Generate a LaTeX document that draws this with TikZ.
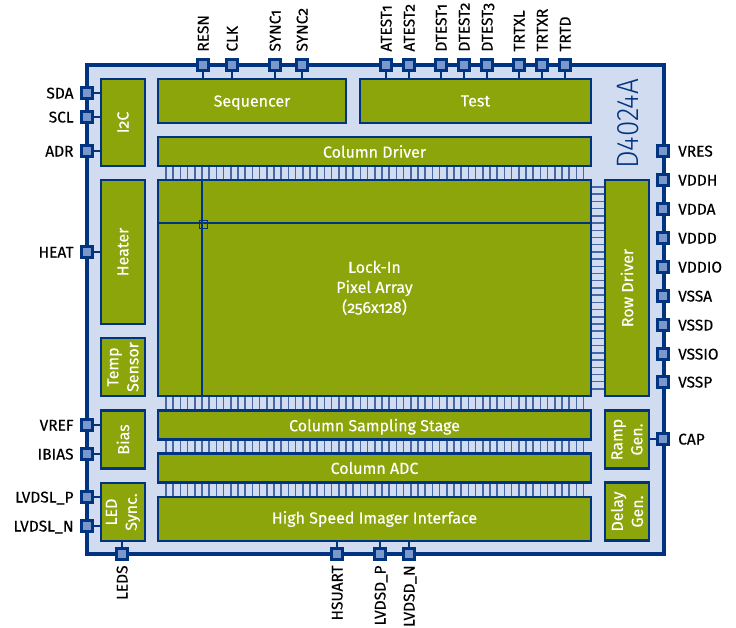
\documentclass[tikz,border=0pt]{standalone}
\usepackage{fontspec}
\setmainfont[Numbers=OldStyle]{Fira Sans}
\newfontfamily\markfont[Numbers=Lining,FakeStretch=0.9]{Fira Sans Light}
\usetikzlibrary{calc,positioning}
\definecolor{chipblue}{RGB}{0,51,128}
\definecolor{chipfill}{RGB}{210,220,240}
\definecolor{padfill}{RGB}{122,152,203}
\definecolor{blockgreen}{RGB}{140,165,10}
\definecolor{tickblue}{RGB}{70,105,165}
\tikzset{
  chipbox/.style={rectangle, draw=chipblue, fill=chipfill, line width=4pt, outer sep=0pt, inner sep=0pt},
  block/.style={rectangle, draw=chipblue, fill=blockgreen, line width=2.4pt, outer sep=0pt, inner sep=0pt,
    text=white, align=center, font=\fontsize{16}{20}\selectfont\addfontfeature{FakeBold=0.25}},
  padbox/.style={rectangle, draw=chipblue, fill=padfill, line width=2.6pt, outer sep=0pt, inner sep=0pt,
    minimum width=10.5pt, minimum height=10.5pt},
  padlabel/.style={font=\fontsize{15.5}{18}\selectfont\addfontfeature{FakeBold=0.3}, text=black, inner sep=0pt,
    text height=13pt, text depth=2pt},
  stub/.style={draw=chipblue, line width=1.1pt},
  tick/.style={draw=tickblue, line width=1.5pt},
  probe/.style={draw=chipblue, line width=1.1pt}
}
\begin{document}
\begin{tikzpicture}[x=1pt, y=-1pt]
\useasboundingbox (0,0) rectangle (736,627);
\node[chipbox, minimum width=577pt, minimum height=489pt] (chip) at (375,309.5) {};
% column and row strips
\foreach \ya/\yb in {166/180,396/411,439/454,483/497} {
  \foreach \i in {0,...,58} {
    \draw[tick] ({166+7.2*\i},\ya) -- ({166+7.2*\i},\yb);
  }
}
\foreach \i in {0,...,28} {
  \draw[tick] (591,{187+7.21*\i}) -- (605,{187+7.21*\i});
}
% blocks
\node[block, text depth=0pt, minimum width=188pt, minimum height=44pt] (seq) at (252,101) {Sequencer};
\node[block, minimum width=231pt, minimum height=44pt] (test) at (475.5,101) {Test};
\node[block, minimum width=433pt, minimum height=29pt] (cdrv) at (374.5,151.5) {Column Driver};
\node[block, minimum width=433pt, minimum height=216pt] (array) at (374.5,288) {Lock-In\\Pixel Array\\(256x128)};
\node[block, text depth=0pt, minimum width=433pt, minimum height=29pt] (csamp) at (374.5,425) {Column Sampling Stage};
\node[block, minimum width=433pt, minimum height=29pt] (cadc) at (374.5,468) {Column ADC};
\node[block, minimum width=433pt, minimum height=44pt] (hsii) at (374.5,519) {High Speed Imager Interface};
\node[block, rotate=90, minimum width=87pt, minimum height=44pt] (i2c) at (123,122.5) {I2C};
\node[block, rotate=90, minimum width=144pt, minimum height=44pt] (heater) at (123,252) {Heater};
\node[block, rotate=90, minimum width=58pt, minimum height=44pt] (temp) at (123,367) {Temp\\Sensor};
\node[block, rotate=90, minimum width=58pt, minimum height=44pt] (bias) at (123,439.5) {Bias};
\node[block, rotate=90, minimum width=58pt, minimum height=44pt] (led) at (123,512) {LED\\Sync.};
\node[block, rotate=90, minimum width=216pt, minimum height=44pt] (rdrv) at (627,288) {Row Driver};
\node[block, rotate=90, minimum width=58pt, minimum height=44pt] (ramp) at (627,439.5) {Ramp\\Gen.};
\node[block, rotate=90, minimum width=58pt, minimum height=44pt] (delay) at (627,511.5) {Delay\\Gen.};
\node[font=\markfont\fontsize{31}{31}\selectfont, text=chipblue, rotate=90, inner sep=0pt] (mark) at (628,124) {D4024A};
% probe lines in the array
\coordinate (probe) at (202,223);
\draw[probe] (probe |- array.north) -- (probe |- array.south);
\draw[probe] (probe -| array.west) -- (probe -| array.east);
\node[draw=chipblue, line width=1.1pt, minimum width=8.5pt, minimum height=8.5pt, inner sep=0pt] (cell) at (203.5,224.5) {};
% pads
\foreach \id/\txt/\x/\dest in {RESN/RESN/203/seq,CLK/CLK/232/seq,SYNCa/SYNC1/275/seq,SYNCb/SYNC2/302/seq,
  ATESTa/ATEST1/386/test,ATESTb/ATEST2/409/test,DTESTa/DTEST1/441/test,DTESTb/DTEST2/464/test,
  DTESTc/DTEST3/487/test,TRTXL/TRTXL/519/test,TRTXR/TRTXR/542/test,TRTD/TRTD/565/test} {
  \node[padbox] (p\id) at (\x,65) {};
  \draw[stub] (p\id) -- (p\id |- \dest.north);
  \node[padlabel, rotate=90, anchor=west] (l\id) at ($(p\id.north)+(0,-8)$) {\txt};
}
\foreach \id/\txt/\y/\dest in {SDA/SDA/93/i2c,SCL/SCL/117/i2c,ADR/ADR/151/i2c,HEAT/HEAT/252/heater,
  VREF/VREF/425/bias,IBIAS/IBIAS/454/bias,LVDSLP/LVDSL\_P/497/led,LVDSLN/LVDSL\_N/526/led} {
  \node[padbox] (p\id) at (87,\y) {};
  \draw[stub] (p\id) -- (p\id -| \dest.north);
  \node[padlabel, left=8pt of p\id] (l\id) {\txt};
}
\foreach \id/\txt/\y in {VRES/VRES/151,VDDH/VDDH/180,VDDA/VDDA/209,VDDD/VDDD/238,VDDIO/VDDIO/267,
  VSSA/VSSA/296,VSSD/VSSD/325,VSSIO/VSSIO/354,VSSP/VSSP/382,CAP/CAP/439} {
  \node[padbox] (p\id) at (663,\y) {};
  \node[padlabel, right=15pt of p\id.center] (l\id) {\txt};
}
\draw[stub] (pCAP) -- (pCAP -| ramp.south);
\foreach \id/\txt/\x/\dest in {LEDS/LEDS/122/led.west,HSUART/HSUART/337/hsii.south,
  LVDSDP/LVDSD\_P/380/hsii.south,LVDSDN/LVDSD\_N/409/hsii.south} {
  \node[padbox] (p\id) at (\x,554) {};
  \draw[stub] (p\id) -- (p\id |- \dest);
  \node[padlabel, rotate=90, anchor=east] (l\id) at ($(p\id.south)+(0,6)$) {\txt};
}
\end{tikzpicture}
\end{document}
